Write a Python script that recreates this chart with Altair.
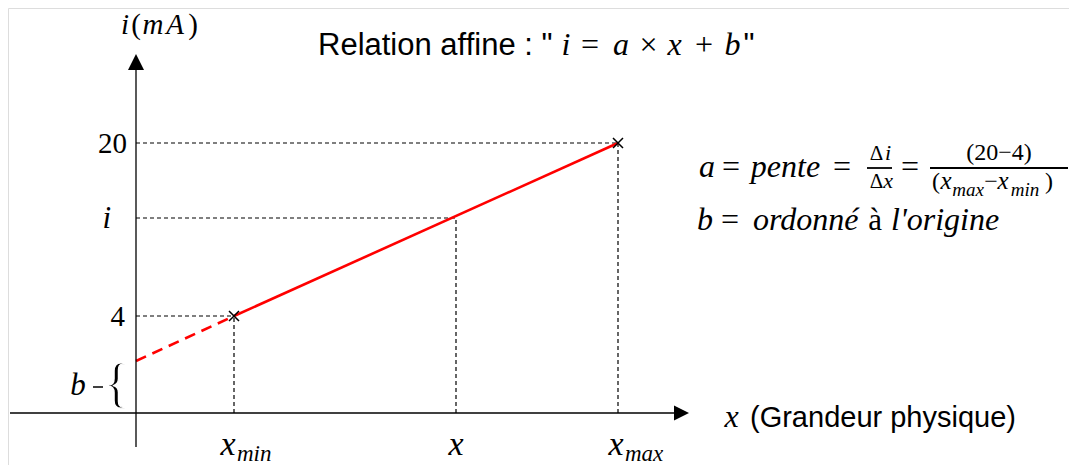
import altair as alt
import pandas as pd

I_LABELS = ["20", "i", "4"]          # labels on the i(mA) axis
I_LEVELS = [270, 195, 97]            # their heights
X_LABELS = ["x_max", "x", "x_min"]   # matching abscissae
X_LEVELS = [482, 320, 98]
B_LEVEL = 52                         # intercept b
Y_AXIS_RANGE = [-34, 343]
X_AXIS_RANGE = [-126, 538]
Y_ARROW_TIP = 359
X_ARROW_TIP = 553

W, H = 1061, 457
XS = alt.Scale(domain=[-128, 933], nice=False, zero=False)
YS = alt.Scale(domain=[-52, 405], nice=False, zero=False)

SERIF = "Liberation Serif"
SANS = "Liberation Sans"

I20, IV, I4 = I_LEVELS
XMAX, XV, XMIN = X_LEVELS


def seg_layer(rows, **mk):
    df = pd.DataFrame(rows, columns=["x", "y", "x2", "y2"])
    return alt.Chart(df).mark_rule(**mk).encode(
        x=alt.X("x:Q", scale=XS, axis=None),
        y=alt.Y("y:Q", scale=YS, axis=None),
        x2="x2:Q",
        y2="y2:Q",
    )


def pt_layer(rows, **mk):
    df = pd.DataFrame(rows, columns=["x", "y"])
    return alt.Chart(df).mark_point(**mk).encode(
        x=alt.X("x:Q", scale=XS, axis=None),
        y=alt.Y("y:Q", scale=YS, axis=None),
    )


# axes
axes = seg_layer(
    [[0, Y_AXIS_RANGE[0], 0, Y_AXIS_RANGE[1]],
     [X_AXIS_RANGE[0], 0, X_AXIS_RANGE[1], 0]],
    color="black", strokeWidth=1.3)

arrow_up = pt_layer([[0, Y_ARROW_TIP - 8]], shape="M0,-1L1,1L-1,1Z", size=256,
                    filled=True, color="black", opacity=1, strokeWidth=0)
arrow_right = pt_layer([[X_ARROW_TIP - 7.5, 0]], shape="M1,0L-1,1L-1,-1Z", size=225,
                       filled=True, color="black", opacity=1, strokeWidth=0)

# dashed guides
guide_rows = []
for lvl, xv in zip(I_LEVELS, X_LEVELS):
    guide_rows.append([0, lvl, xv, lvl])
    guide_rows.append([xv, 0, xv, lvl])
guides = seg_layer(guide_rows, color="black", strokeWidth=1.2, strokeDash=[4, 3])

# red affine line
red_solid = seg_layer([[XMIN, I4, XMAX, I20]], color="#ff0000", strokeWidth=2.6)
red_dash = seg_layer([[0, B_LEVEL, XMIN, I4]], color="#ff0000", strokeWidth=2.6,
                     strokeDash=[11, 7])

crosses = pt_layer([[XMIN, I4], [XMAX, I20]], shape="M-1,-1L1,1M1,-1L-1,1", size=100,
                   filled=False, color="black", opacity=1, strokeWidth=1.5)

# b marker tick and fraction bars
b_tick = seg_layer([[-43, B_LEVEL / 2, -33, B_LEVEL / 2]], color="black", strokeWidth=1.5)
frac_bars = seg_layer([[731, 245, 756, 245], [794, 245, 932, 245]], color="black",
                      strokeWidth=1.8)

# ---- text pieces: (text, x, y-baseline, size, kind) ----
texts = [
    # title
    ('Relation affine : "', 182, 358, 31, "sl"),
    ("i", 430, 358, 32, "mi"), ("=", 454, 358, 32, "mn"), ("a", 485, 358, 32, "mi"),
    ("×", 512.5, 358, 32, "mn"), ("x", 538.5, 358, 32, "mi"), ("+", 568, 358, 32, "mn"),
    ("b", 596.5, 358, 32, "mi"), ('"', 613, 358, 31, "sc"),
    # i(mA)
    ("i", -11, 379, 29, "mi"), ("(", 0, 379, 29, "mn"), ("m", 17, 379, 29, "mi"),
    ("A", 39, 379, 29, "mi"), (")", 57, 379, 29, "mn"),
    # i-axis labels
    (I_LABELS[0], -9, I20 - 9.5, 29, "rn"),
    (I_LABELS[1], -25, IV - 10, 31, "ri"),
    (I_LABELS[2], -11, I4 - 9.5, 29, "rn"),
    ("b", -58, 18, 31, "mi"),
    # x-axis labels
    ("x", XMIN - 6, -42, 34, "mi"), ("min", XMIN + 3, -48, 23, "li"),
    ("x", XV, -42, 34, "mi"),
    ("x", XMAX - 2, -42, 34, "mi"), ("max", XMAX + 7, -48, 23, "li"),
    ("x", 595.5, -14, 32, "mi"), ("(Grandeur physique)", 614, -14, 29, "sl"),
    # formula row 1
    ("a", 571, 236, 32, "mi"), ("=", 595, 236, 32, "mn"), ("pente", 649.5, 236, 32, "mi"),
    ("=", 706, 236, 32, "mn"),
    ("Δ", 740.5, 253, 21, "mn"), ("i", 752, 253, 22, "mi"),
    ("Δ", 740.5, 225, 21, "mn"), ("x", 752, 225, 22, "mi"),
    ("=", 774, 236, 32, "mn"),
    ("(20−4)", 863, 253, 24, "mn"),
    ("(", 800, 224, 24, "mn"), ("x", 810, 224, 25, "mi"), ("max", 832, 217, 19, "mi"),
    ("−", 855, 224, 24, "mn"), ("x", 867, 224, 25, "mi"), ("min", 889, 217, 19, "mi"),
    (")", 913, 224, 24, "mn"),
    # formula row 2
    ("b", 569, 183, 32, "mi"), ("=", 594, 183, 32, "mn"), ("ordonné", 617, 183, 32, "li"),
    ("à", 739, 183, 31, "mn"), ("l'origine", 755, 183, 32, "li"),
]
tdf = pd.DataFrame(texts, columns=["t", "x", "y", "s", "kind"])

STYLES = {
    "mi": dict(font=SERIF, fontStyle="italic", align="center"),
    "li": dict(font=SERIF, fontStyle="italic", align="left"),
    "mn": dict(font=SERIF, fontStyle="normal", align="center"),
    "rn": dict(font=SERIF, fontStyle="normal", align="right"),
    "ri": dict(font=SERIF, fontStyle="italic", align="right"),
    "sl": dict(font=SANS, fontStyle="normal", align="left"),
    "sc": dict(font=SANS, fontStyle="normal", align="center"),
}

text_layers = []
for kind, props in STYLES.items():
    sub = tdf[tdf["kind"] == kind]
    if len(sub) == 0:
        continue
    text_layers.append(
        alt.Chart(sub).mark_text(baseline="alphabetic", color="black", **props).encode(
            x=alt.X("x:Q", scale=XS, axis=None),
            y=alt.Y("y:Q", scale=YS, axis=None),
            text="t:N",
            size=alt.Size("s:Q", scale=None, legend=None),
        )
    )

# curly brace marking b (thin glyph: white outline trims the stroke weight)
brace = alt.Chart(pd.DataFrame({"t": ["{"], "x": [-19.5], "y": [B_LEVEL / 2 - 14]})).mark_text(
    font=SERIF, fontSize=54, align="center", baseline="alphabetic", color="black",
    stroke="white", strokeWidth=1.3,
).encode(
    x=alt.X("x:Q", scale=XS, axis=None),
    y=alt.Y("y:Q", scale=YS, axis=None),
    text="t:N",
)

chart = alt.layer(
    guides, red_dash, red_solid, axes, arrow_up, arrow_right, crosses, b_tick, frac_bars,
    brace, *text_layers
).properties(
    width=W, height=H, padding=0,
    autosize=alt.AutoSizeParams(type="none"),
).configure_view(strokeWidth=0).configure(background="white")

chart.save("out.html", embed_options={"renderer": "svg", "actions": False})
